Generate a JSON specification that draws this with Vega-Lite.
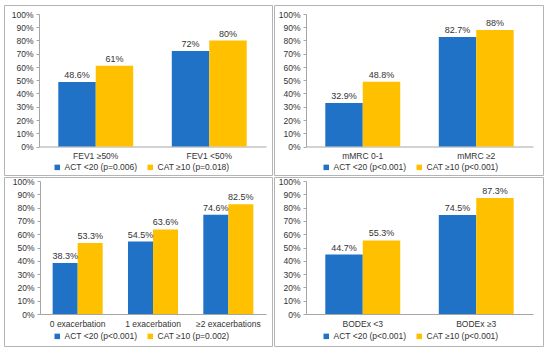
{
  "$schema": "https://vega.github.io/schema/vega-lite/v6.json",
  "padding": {"left": 3, "top": 4, "right": 0, "bottom": 0},
  "background": "white",
  "spacing": 0,
  "resolve": {"scale": {"color": "independent", "x": "independent", "y": "independent"}, "legend": {"color": "independent"}},
  "vconcat": [
    {
      "spacing": 0,
      "resolve": {"scale": {"color": "independent", "x": "independent", "y": "independent"}, "legend": {"color": "independent"}},
      "hconcat": [
        {
          "width": 268, "height": 170,
          "data": {"values": [
            {"cat": "FEV1 ≥50%", "s": "ACT", "series": "ACT <20 (p=0.006)", "value": 0.486},
            {"cat": "FEV1 ≥50%", "s": "CAT", "series": "CAT ≥10 (p=0.018)", "value": 0.61},
            {"cat": "FEV1 <50%", "s": "ACT", "series": "ACT <20 (p=0.006)", "value": 0.72},
            {"cat": "FEV1 <50%", "s": "CAT", "series": "CAT ≥10 (p=0.018)", "value": 0.80}
          ]},
          "encoding": {
            "y": {"field": "value", "type": "quantitative", "scale": {"domain": [0, 1], "range": [141.5, 9], "nice": false}, "axis": {"offset": -35, "values": [0, 0.1, 0.2, 0.3, 0.4, 0.5, 0.6, 0.7, 0.8, 0.9, 1]}},
            "color": {"field": "series", "type": "nominal", "sort": null, "scale": {"range": ["#1F72C6", "#FFC000"]}, "legend": {"legendX": 49, "legendY": 158}}
          },
          "layer": [
            {"transform": [{"filter": "datum.s == 'ACT'"}], "mark": {"type": "bar"},
             "encoding": {"x": {"field": "cat", "type": "nominal", "sort": null, "bandPosition": 0, "scale": {"range": [35, 262], "paddingInner": 0.34, "paddingOuter": 0.17}, "axis": {"offset": -28.5}}, "x2": {"field": "cat", "bandPosition": 0.5}, "y2": {"datum": 0}}},
            {"transform": [{"filter": "datum.s == 'CAT'"}], "mark": {"type": "bar"},
             "encoding": {"x": {"field": "cat", "type": "nominal", "sort": null, "bandPosition": 0.5}, "x2": {"field": "cat", "bandPosition": 1}, "y2": {"datum": 0}}},
            {"transform": [{"filter": "datum.s == 'ACT'"}], "mark": {"type": "text", "baseline": "bottom", "dy": -2, "fontSize": 9, "color": "#333333"},
             "encoding": {"x": {"field": "cat", "type": "nominal", "sort": null, "bandPosition": 0.25}, "text": {"field": "value", "type": "quantitative", "format": ".1~%"}, "color": {"value": "#333333"}}},
            {"transform": [{"filter": "datum.s == 'CAT'"}], "mark": {"type": "text", "baseline": "bottom", "dy": -2, "fontSize": 9, "color": "#333333"},
             "encoding": {"x": {"field": "cat", "type": "nominal", "sort": null, "bandPosition": 0.75}, "text": {"field": "value", "type": "quantitative", "format": ".1~%"}, "color": {"value": "#333333"}}}
          ]
        },
        {
          "width": 269, "height": 170,
          "data": {"values": [
            {"cat": "mMRC 0-1", "s": "ACT", "series": "ACT <20 (p<0.001)", "value": 0.329},
            {"cat": "mMRC 0-1", "s": "CAT", "series": "CAT ≥10 (p<0.001)", "value": 0.488},
            {"cat": "mMRC ≥2", "s": "ACT", "series": "ACT <20 (p<0.001)", "value": 0.827},
            {"cat": "mMRC ≥2", "s": "CAT", "series": "CAT ≥10 (p<0.001)", "value": 0.88}
          ]},
          "encoding": {
            "y": {"field": "value", "type": "quantitative", "scale": {"domain": [0, 1], "range": [141.5, 9], "nice": false}, "axis": {"offset": -32, "values": [0, 0.1, 0.2, 0.3, 0.4, 0.5, 0.6, 0.7, 0.8, 0.9, 1]}},
            "color": {"field": "series", "type": "nominal", "sort": null, "scale": {"range": ["#1F72C6", "#FFC000"]}, "legend": {"legendX": 48, "legendY": 158}}
          },
          "layer": [
            {"transform": [{"filter": "datum.s == 'ACT'"}], "mark": {"type": "bar"},
             "encoding": {"x": {"field": "cat", "type": "nominal", "sort": null, "bandPosition": 0, "scale": {"range": [32, 259], "paddingInner": 0.34, "paddingOuter": 0.17}, "axis": {"offset": -28.5}}, "x2": {"field": "cat", "bandPosition": 0.5}, "y2": {"datum": 0}}},
            {"transform": [{"filter": "datum.s == 'CAT'"}], "mark": {"type": "bar"},
             "encoding": {"x": {"field": "cat", "type": "nominal", "sort": null, "bandPosition": 0.5}, "x2": {"field": "cat", "bandPosition": 1}, "y2": {"datum": 0}}},
            {"transform": [{"filter": "datum.s == 'ACT'"}], "mark": {"type": "text", "baseline": "bottom", "dy": -2, "fontSize": 9, "color": "#333333"},
             "encoding": {"x": {"field": "cat", "type": "nominal", "sort": null, "bandPosition": 0.25}, "text": {"field": "value", "type": "quantitative", "format": ".1~%"}, "color": {"value": "#333333"}}},
            {"transform": [{"filter": "datum.s == 'CAT'"}], "mark": {"type": "text", "baseline": "bottom", "dy": -2, "fontSize": 9, "color": "#333333"},
             "encoding": {"x": {"field": "cat", "type": "nominal", "sort": null, "bandPosition": 0.75}, "text": {"field": "value", "type": "quantitative", "format": ".1~%"}, "color": {"value": "#333333"}}}
          ]
        }
      ]
    },
    {
      "spacing": 0,
      "resolve": {"scale": {"color": "independent", "x": "independent", "y": "independent"}, "legend": {"color": "independent"}},
      "hconcat": [
        {
          "width": 268, "height": 169,
          "data": {"values": [
            {"cat": "0 exacerbation", "s": "ACT", "series": "ACT <20 (p<0.001)", "value": 0.383},
            {"cat": "0 exacerbation", "s": "CAT", "series": "CAT ≥10 (p=0.002)", "value": 0.533},
            {"cat": "1 exacerbation", "s": "ACT", "series": "ACT <20 (p<0.001)", "value": 0.545},
            {"cat": "1 exacerbation", "s": "CAT", "series": "CAT ≥10 (p=0.002)", "value": 0.636},
            {"cat": "≥2 exacerbations", "s": "ACT", "series": "ACT <20 (p<0.001)", "value": 0.746},
            {"cat": "≥2 exacerbations", "s": "CAT", "series": "CAT ≥10 (p=0.002)", "value": 0.825}
          ]},
          "encoding": {
            "y": {"field": "value", "type": "quantitative", "scale": {"domain": [0, 1], "range": [137, 4], "nice": false}, "axis": {"offset": -36, "values": [0, 0.1, 0.2, 0.3, 0.4, 0.5, 0.6, 0.7, 0.8, 0.9, 1]}},
            "color": {"field": "series", "type": "nominal", "sort": null, "scale": {"range": ["#1F72C6", "#FFC000"]}, "legend": {"legendX": 49, "legendY": 155}}
          },
          "layer": [
            {"transform": [{"filter": "datum.s == 'ACT'"}], "mark": {"type": "bar"},
             "encoding": {"x": {"field": "cat", "type": "nominal", "sort": null, "bandPosition": 0, "scale": {"range": [36, 262], "paddingInner": 0.336, "paddingOuter": 0.168}, "axis": {"offset": -32}}, "x2": {"field": "cat", "bandPosition": 0.5}, "y2": {"datum": 0}}},
            {"transform": [{"filter": "datum.s == 'CAT'"}], "mark": {"type": "bar"},
             "encoding": {"x": {"field": "cat", "type": "nominal", "sort": null, "bandPosition": 0.5}, "x2": {"field": "cat", "bandPosition": 1}, "y2": {"datum": 0}}},
            {"transform": [{"filter": "datum.s == 'ACT'"}], "mark": {"type": "text", "baseline": "bottom", "dy": -2, "fontSize": 9, "color": "#333333"},
             "encoding": {"x": {"field": "cat", "type": "nominal", "sort": null, "bandPosition": 0.25}, "text": {"field": "value", "type": "quantitative", "format": ".1~%"}, "color": {"value": "#333333"}}},
            {"transform": [{"filter": "datum.s == 'CAT'"}], "mark": {"type": "text", "baseline": "bottom", "dy": -2, "fontSize": 9, "color": "#333333"},
             "encoding": {"x": {"field": "cat", "type": "nominal", "sort": null, "bandPosition": 0.75}, "text": {"field": "value", "type": "quantitative", "format": ".1~%"}, "color": {"value": "#333333"}}}
          ]
        },
        {
          "width": 269, "height": 169,
          "data": {"values": [
            {"cat": "BODEx <3", "s": "ACT", "series": "ACT <20 (p<0.001)", "value": 0.447},
            {"cat": "BODEx <3", "s": "CAT", "series": "CAT ≥10 (p<0.001)", "value": 0.553},
            {"cat": "BODEx ≥3", "s": "ACT", "series": "ACT <20 (p<0.001)", "value": 0.745},
            {"cat": "BODEx ≥3", "s": "CAT", "series": "CAT ≥10 (p<0.001)", "value": 0.873}
          ]},
          "encoding": {
            "y": {"field": "value", "type": "quantitative", "scale": {"domain": [0, 1], "range": [137, 4], "nice": false}, "axis": {"offset": -32, "values": [0, 0.1, 0.2, 0.3, 0.4, 0.5, 0.6, 0.7, 0.8, 0.9, 1]}},
            "color": {"field": "series", "type": "nominal", "sort": null, "scale": {"range": ["#1F72C6", "#FFC000"]}, "legend": {"legendX": 48, "legendY": 155}}
          },
          "layer": [
            {"transform": [{"filter": "datum.s == 'ACT'"}], "mark": {"type": "bar"},
             "encoding": {"x": {"field": "cat", "type": "nominal", "sort": null, "bandPosition": 0, "scale": {"range": [32, 259], "paddingInner": 0.34, "paddingOuter": 0.17}, "axis": {"offset": -32}}, "x2": {"field": "cat", "bandPosition": 0.5}, "y2": {"datum": 0}}},
            {"transform": [{"filter": "datum.s == 'CAT'"}], "mark": {"type": "bar"},
             "encoding": {"x": {"field": "cat", "type": "nominal", "sort": null, "bandPosition": 0.5}, "x2": {"field": "cat", "bandPosition": 1}, "y2": {"datum": 0}}},
            {"transform": [{"filter": "datum.s == 'ACT'"}], "mark": {"type": "text", "baseline": "bottom", "dy": -2, "fontSize": 9, "color": "#333333"},
             "encoding": {"x": {"field": "cat", "type": "nominal", "sort": null, "bandPosition": 0.25}, "text": {"field": "value", "type": "quantitative", "format": ".1~%"}, "color": {"value": "#333333"}}},
            {"transform": [{"filter": "datum.s == 'CAT'"}], "mark": {"type": "text", "baseline": "bottom", "dy": -2, "fontSize": 9, "color": "#333333"},
             "encoding": {"x": {"field": "cat", "type": "nominal", "sort": null, "bandPosition": 0.75}, "text": {"field": "value", "type": "quantitative", "format": ".1~%"}, "color": {"value": "#333333"}}}
          ]
        }
      ]
    }
  ],
  "config": {
    "font": "Liberation Sans",
    "view": {"stroke": "#b4b4b4", "strokeWidth": 1},
    "axis": {"title": null, "grid": false, "labelFont": "Liberation Sans", "labelFontSize": 8.5, "labelColor": "#333333", "domainColor": "#a6a6a6", "tickColor": "#a6a6a6"},
    "axisX": {"labelAngle": 0, "ticks": false, "labelPadding": 5},
    "axisY": {"format": ".0%", "tickSize": 3, "labelPadding": 3},
    "legend": {"orient": "none", "direction": "horizontal", "title": null, "symbolType": "square", "symbolSize": 30, "symbolStrokeWidth": 0, "labelFont": "Liberation Sans", "labelFontSize": 8.5, "labelColor": "#333333", "columnPadding": 8, "labelOffset": 3}
  }
}
